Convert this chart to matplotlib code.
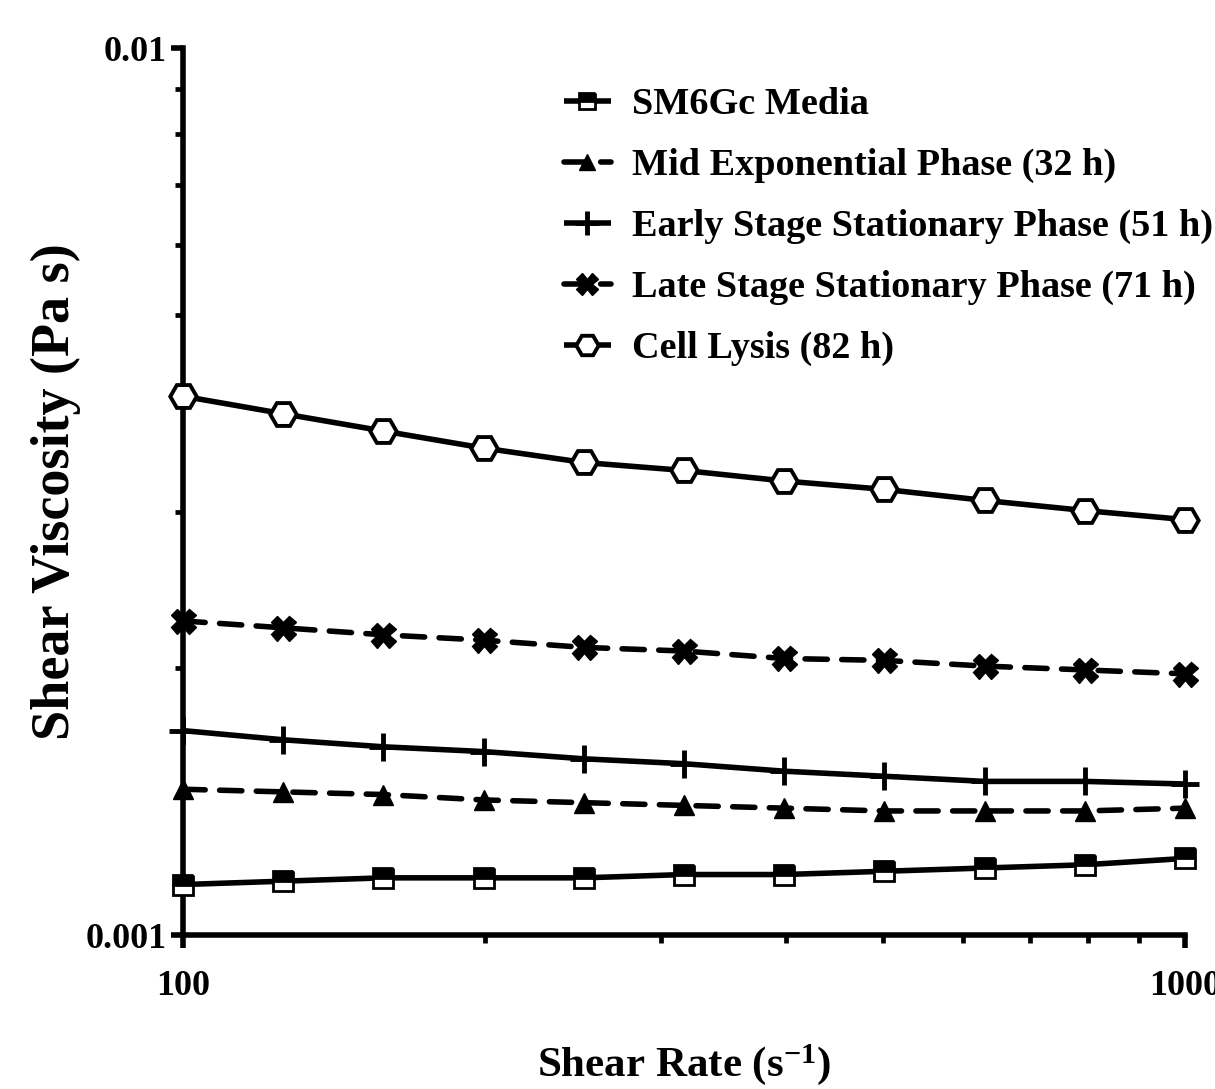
import matplotlib
matplotlib.use("Agg")
import matplotlib.pyplot as plt
from matplotlib.ticker import LogLocator, NullFormatter, FixedLocator, FixedFormatter

plt.rcParams['font.family'] = ['Liberation Serif', 'DejaVu Serif']
plt.rcParams['font.weight'] = 'bold'
plt.rcParams['axes.labelweight'] = 'bold'
plt.rcParams['mathtext.default'] = 'regular'

shear_rate = [100, 125.9, 158.5, 199.5, 251.2, 316.2, 398.1, 501.2, 631.0, 794.3, 1000]

sm6gc = [0.00114, 0.00115, 0.00116, 0.00116, 0.00116, 0.00117, 0.00117, 0.00118, 0.00119, 0.00120, 0.00122]
mid_exp = [0.00146, 0.00145, 0.00144, 0.00142, 0.00141, 0.00140, 0.00139, 0.00138, 0.00138, 0.00138, 0.00139]
early_stat = [0.00170, 0.00166, 0.00163, 0.00161, 0.00158, 0.00156, 0.00153, 0.00151, 0.00149, 0.00149, 0.00148]
late_stat = [0.00226, 0.00222, 0.00218, 0.00215, 0.00211, 0.00209, 0.00205, 0.00204, 0.00201, 0.00199, 0.00197]
cell_lysis = [0.00405, 0.00387, 0.00370, 0.00354, 0.00341, 0.00334, 0.00325, 0.00318, 0.00309, 0.00301, 0.00294]

labels = ["SM6Gc Media", "Mid Exponential Phase (32 h)",
          "Early Stage Stationary Phase (51 h)", "Late Stage Stationary Phase (71 h)",
          "Cell Lysis (82 h)"]

fig = plt.figure(figsize=(12.15, 10.89), dpi=100)
ax = fig.add_axes([0.1506, 0.1414, 0.8247, 0.8145])

lw = 4.0
dash = (4.0, 2.6)
common = dict(color='black', lw=lw, clip_on=False, zorder=5,
              dash_capstyle='round', solid_capstyle='butt')
ax.plot(shear_rate, sm6gc, marker='s', ms=14, mew=2,
        fillstyle='top', markerfacecolor='black', markerfacecoloralt='white',
        markeredgecolor='black', label=labels[0], **common)
ax.plot(shear_rate, mid_exp, ls=(0, dash), marker='^', ms=14,
        mfc='black', mec='black', label=labels[1], **common)
ax.plot(shear_rate, early_stat, marker='+', ms=20, mew=3.5,
        label=labels[2], **common)
ax.plot(shear_rate, late_stat, ls=(0, dash), marker='X', ms=18,
        mfc='black', mec='black', label=labels[3], **common)
ax.plot(shear_rate, cell_lysis, marker='H', ms=19, mew=2.8,
        mfc='white', mec='black', label=labels[4], **common)

ax.set_xscale('log')
ax.set_yscale('log')
ax.set_xlim(100, 1000)
ax.set_ylim(0.001, 0.01)

ax.xaxis.set_major_locator(FixedLocator([100, 1000]))
ax.xaxis.set_major_formatter(FixedFormatter(['100', '1000']))
ax.xaxis.set_minor_locator(LogLocator(base=10, subs=range(2, 10)))
ax.xaxis.set_minor_formatter(NullFormatter())
ax.yaxis.set_major_locator(FixedLocator([0.001, 0.01]))
ax.yaxis.set_major_formatter(FixedFormatter(['0.001', '0.01']))
ax.yaxis.set_minor_locator(LogLocator(base=10, subs=range(2, 10)))
ax.yaxis.set_minor_formatter(NullFormatter())

for s in ['top', 'right']:
    ax.spines[s].set_visible(False)
for s in ['left', 'bottom']:
    ax.spines[s].set_linewidth(4.0)

ax.tick_params(axis='both', which='major', direction='out', length=9, width=4.0,
               labelsize=26)
ax.tick_params(axis='both', which='minor', direction='out', length=6, width=3.4)
ax.tick_params(axis='x', which='major', pad=16)
ax.tick_params(axis='y', which='major', pad=3)

ax.set_xlabel('Shear Rate (s$^{-1}$)', fontsize=31, labelpad=28)
ax.set_ylabel('Shear Viscosity (Pa s)', fontsize=39, labelpad=3)

leg = ax.legend(loc='upper left', bbox_to_anchor=(0.357, 0.982), frameon=False,
                fontsize=27.5, handlelength=1.25, handletextpad=0.55,
                labelspacing=0.68, markerscale=0.85, borderaxespad=0.2)

fig.savefig('out.png', dpi=100)
